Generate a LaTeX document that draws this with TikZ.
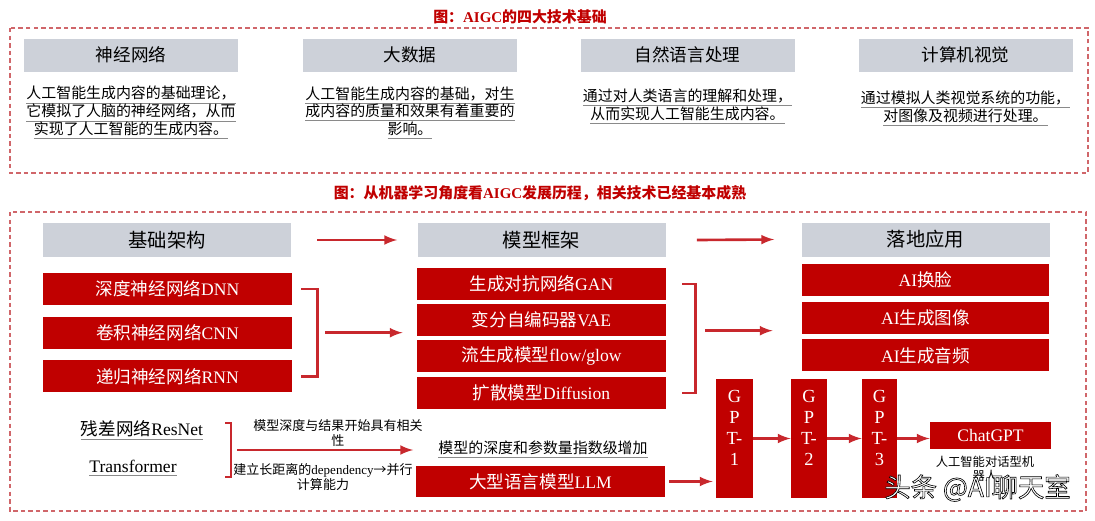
\documentclass[tikz,border=0pt]{standalone}
\usepackage{fontspec}
\setmainfont{Liberation Serif}
\newfontfamily\cjk{Noto Sans CJK SC}
\usetikzlibrary{arrows, positioning}

\definecolor{boxred}{HTML}{C00000}
\definecolor{hdrgray}{HTML}{CDD1D9}
\definecolor{dashred}{HTML}{D0666A}
\definecolor{arrowred}{HTML}{C8282D}
\definecolor{linegray}{HTML}{8A8A8A}

\newcommand{\zh}[1]{{\cjk #1}}
\newcommand{\gline}[1]{{\color{linegray}\underline{\color{black}#1}}}
\newcommand{\outlined}[1]{{\special{pdf:literal direct 2 Tr 0.35 w 0 G}#1\special{pdf:literal direct 0 Tr}}}

\begin{document}
\begin{tikzpicture}[node distance=0.2cm,
    hdr/.style={rectangle, fill=hdrgray, minimum width=4.96cm, minimum height=0.68cm, font=\cjk\fontsize{11}{13}\selectfont},
    tophdr/.style={rectangle, fill=hdrgray, minimum width=4.28cm, minimum height=0.66cm, font=\cjk\fontsize{10}{12}\selectfont},
    desc/.style={align=center, inner sep=0pt, font=\cjk\fontsize{8.5}{10.2}\selectfont},
    redbox/.style={rectangle, fill=boxred, text=white, minimum width=4.98cm, minimum height=0.64cm, inner sep=1pt, font=\fontsize{10}{12}\selectfont},
    gptbox/.style={rectangle, fill=boxred, text=white, minimum width=0.74cm, minimum height=2.38cm, inner sep=1pt, align=center, font=\fontsize{10.5}{12}\selectfont},
    note/.style={align=center, inner sep=0pt, font=\fontsize{7.4}{9}\selectfont},
    plain/.style={inner sep=0pt, font=\fontsize{10}{12}\selectfont},
    title/.style={text=boxred, font=\fontsize{8.5}{10}\selectfont\bfseries},
    frame/.style={draw=dashred, line width=0.6pt, dash pattern=on 2.5pt off 1.8pt},
    arr/.style={-latex, draw=arrowred, line width=1.5pt},
    brk/.style={draw=arrowred, line width=1.5pt},
    wm/.style={text=white, font=\cjk\fontsize{15}{17}\selectfont}]
\useasboundingbox (0,0) rectangle (21.9,-10.42);

% four technical bases
\node[title] (t1) at (10.4,-0.34) {\zh{图：}AIGC\zh{的四大技术基础}};
\draw[frame] (0.2,-0.56) rectangle (21.76,-3.46);
\node[tophdr] (nn) at (2.62,-1.1) {神经网络};
\node[tophdr] (bd) at (8.2,-1.1) {大数据};
\node[tophdr] (nlp) at (13.75,-1.1) {自然语言处理};
\node[tophdr] (cv) at (19.31,-1.1) {计算机视觉};
\node[desc] (nntxt) at (2.62,-2.26) {\gline{人工智能生成内容的基础理论，}\\\gline{它模拟了人脑的神经网络，从而}\\\gline{实现了人工智能的生成内容。}};
\node[desc] (bdtxt) at (8.2,-2.26) {\gline{人工智能生成内容的基础，对生}\\\gline{成内容的质量和效果有着重要的}\\\gline{影响。}};
\node[desc] (nlptxt) at (13.75,-2.13) {\gline{通过对人类语言的理解和处理，}\\\gline{从而实现人工智能生成内容。}};
\node[desc] (cvtxt) at (19.31,-2.17) {\gline{通过模拟人类视觉系统的功能，}\\\gline{对图像及视频进行处理。}};

% development from machine learning
\node[title] (t2) at (10.8,-3.86) {\zh{图：从机器学习角度看}AIGC\zh{发展历程，相关技术已经基本成熟}};
\draw[frame] (0.2,-4.24) rectangle (21.72,-10.22);
\node[hdr] (base) at (3.34,-4.8) {基础架构};
\node[hdr] (model) at (10.83,-4.8) {模型框架};
\node[hdr] (app) at (18.51,-4.79) {落地应用};

\node[redbox] (dnn) at (3.35,-5.78) {\zh{深度神经网络}DNN};
\node[redbox, below=0.22cm of dnn] (cnn) {\zh{卷积神经网络}CNN};
\node[redbox, below=0.22cm of cnn] (rnn) {\zh{递归神经网络}RNN};

\node[redbox] (gan) at (10.83,-5.68) {\zh{生成对抗网络}GAN};
\node[redbox, below=0.06cm of gan] (vae) {\zh{变分自编码器}VAE};
\node[redbox, below=0.08cm of vae] (flow) {\zh{流生成模型}flow/glow};
\node[redbox, below=0.08cm of flow] (diff) {\zh{扩散模型}Diffusion};

\node[redbox, minimum width=4.94cm] (face) at (18.51,-5.6) {AI\zh{换脸}};
\node[redbox, minimum width=4.94cm, below=0.1cm of face] (img) {AI\zh{生成图像}};
\node[redbox, minimum width=4.94cm, below=0.1cm of img] (audio) {AI\zh{生成音频}};

\node[plain] (resnet) at (2.84,-8.6) {\gline{\zh{残差网络}ResNet}};
\node[plain] (trans) at (2.66,-9.36) {\gline{Transformer}};
\coordinate (brk3) at (4.62,-9.0);
\node[note] (n1) at (6.76,-8.66) {\zh{模型深度与结果开始具有相关}\\\zh{性}};
\node[note] (n2) at (6.46,-9.54) {\zh{建立长距离的}dependency\zh{→并行}\\\zh{计算能力}};
\node[desc] (deep) at (10.86,-9.0) {\gline{模型的深度和参数量指数级增加}};
\node[redbox, minimum height=0.62cm] (llm) at (10.81,-9.63) {\zh{大型语言模型}LLM};

\node[gptbox] (gpt1) at (14.69,-8.77) {G\\P\\T-\\1\\~};
\node[gptbox, minimum width=0.72cm] (gpt2) at (16.18,-8.77) {G\\P\\T-\\2\\~};
\node[gptbox, minimum width=0.7cm] (gpt3) at (17.59,-8.77) {G\\P\\T-\\3\\~};
\node[redbox, minimum width=2.42cm, minimum height=0.54cm] (chat) at (19.81,-8.71) {ChatGPT};
\node[note, font=\cjk\fontsize{7}{7.8}\selectfont] (chatnote) at (19.7,-9.38) {人工智能对话型机\\器人};

\draw[arr] ([xshift=0.52cm]base.east) -- ([xshift=-0.4cm]model.west);
\draw[arr] ([xshift=0.62cm]model.east) -- ([xshift=-0.54cm]app.west);
\draw[brk] ([xshift=0.18cm]dnn.east) -- ++(0.32,0) |- ([xshift=0.18cm]rnn.east);
\draw[arr] ([xshift=0.66cm]cnn.east) -- ([xshift=-0.28cm]cnn.east -| gan.west);
\draw[brk] ([xshift=0.32cm]gan.east) -- ++(0.26,0) |- ([xshift=0.32cm]diff.east);
\draw[arr] ([xshift=0.78cm,yshift=-0.22cm]vae.east) -- ([xshift=-0.58cm,yshift=-0.22cm]vae.east -| img.west);
\draw[brk] ([xshift=-0.12cm,yshift=0.54cm]brk3) -- ++(0.12,0) -- ([yshift=-0.54cm]brk3) -- ++(-0.12,0);
\draw[arr] ([xshift=0.12cm]brk3) -- ([xshift=-0.5cm]deep.west);
\draw[arr] ([xshift=0.08cm]llm.east) -- ([xshift=-0.06cm]llm.east -| gpt1.west);
\draw[arr] (gpt1) -- (gpt2);
\draw[arr] (gpt2) -- (gpt3);
\draw[arr] (gpt3.east) -- (gpt3.east -| chat.west);

\node[wm] (mark) at (19.55,-9.76) {\outlined{头条 @AI聊天室}};
\end{tikzpicture}
\end{document}
